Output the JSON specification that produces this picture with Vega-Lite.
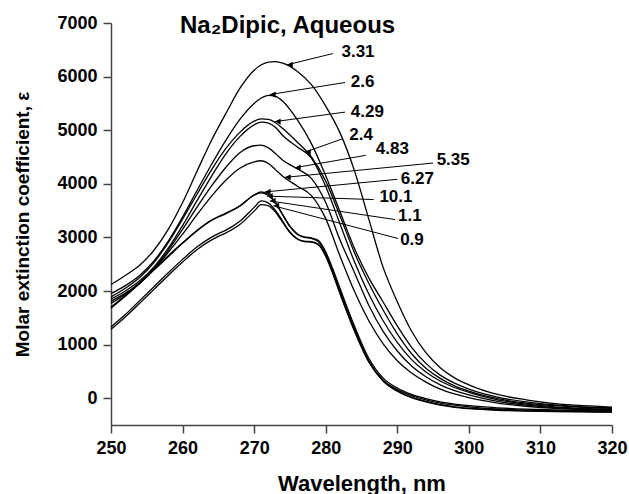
{
  "$schema": "https://vega.github.io/schema/vega-lite/v6.json",
  "width": 501,
  "height": 402,
  "autosize": "none",
  "padding": {"left": 111, "top": 23, "right": 17, "bottom": 69},
  "config": {"font": "Liberation Sans", "view": {"stroke": null}},
  "title": {"text": "Na₂Dipic, Aqueous", "fontSize": 24, "fontWeight": "bold", "anchor": "start", "frame": "group", "dx": 69, "offset": -43, "baseline": "alphabetic", "color": "#000"},
  "datasets": {
    "curves": [
      {"s":"3.31","w":250,"e":2120},{"s":"3.31","w":252,"e":2290},{"s":"3.31","w":254,"e":2480},{"s":"3.31","w":256,"e":2760},{"s":"3.31","w":258,"e":3150},{"s":"3.31","w":260,"e":3650},{"s":"3.31","w":262,"e":4230},{"s":"3.31","w":264,"e":4800},{"s":"3.31","w":266,"e":5300},{"s":"3.31","w":268,"e":5780},{"s":"3.31","w":270,"e":6120},{"s":"3.31","w":271,"e":6220},{"s":"3.31","w":272,"e":6270},{"s":"3.31","w":273,"e":6280},{"s":"3.31","w":274,"e":6250},{"s":"3.31","w":276,"e":6100},{"s":"3.31","w":278,"e":5850},{"s":"3.31","w":280,"e":5450},{"s":"3.31","w":282,"e":4950},{"s":"3.31","w":284,"e":4250},{"s":"3.31","w":286,"e":3350},{"s":"3.31","w":288,"e":2450},{"s":"3.31","w":290,"e":1800},{"s":"3.31","w":292,"e":1250},{"s":"3.31","w":294,"e":850},{"s":"3.31","w":296,"e":570},{"s":"3.31","w":298,"e":380},{"s":"3.31","w":300,"e":250},{"s":"3.31","w":304,"e":70},{"s":"3.31","w":308,"e":-30},{"s":"3.31","w":312,"e":-100},{"s":"3.31","w":316,"e":-140},{"s":"3.31","w":320,"e":-165},
      {"s":"2.6","w":250,"e":1950},{"s":"2.6","w":252,"e":2100},{"s":"2.6","w":254,"e":2290},{"s":"2.6","w":256,"e":2560},{"s":"2.6","w":258,"e":2930},{"s":"2.6","w":260,"e":3380},{"s":"2.6","w":262,"e":3870},{"s":"2.6","w":264,"e":4350},{"s":"2.6","w":266,"e":4800},{"s":"2.6","w":268,"e":5200},{"s":"2.6","w":270,"e":5500},{"s":"2.6","w":271,"e":5600},{"s":"2.6","w":272,"e":5650},{"s":"2.6","w":273,"e":5630},{"s":"2.6","w":274,"e":5540},{"s":"2.6","w":276,"e":5200},{"s":"2.6","w":278,"e":4750},{"s":"2.6","w":280,"e":4150},{"s":"2.6","w":282,"e":3480},{"s":"2.6","w":284,"e":2800},{"s":"2.6","w":286,"e":2250},{"s":"2.6","w":288,"e":1800},{"s":"2.6","w":290,"e":1350},{"s":"2.6","w":292,"e":950},{"s":"2.6","w":294,"e":650},{"s":"2.6","w":296,"e":430},{"s":"2.6","w":298,"e":280},{"s":"2.6","w":300,"e":170},{"s":"2.6","w":304,"e":20},{"s":"2.6","w":308,"e":-70},{"s":"2.6","w":312,"e":-125},{"s":"2.6","w":316,"e":-160},{"s":"2.6","w":320,"e":-180},
      {"s":"4.29","w":250,"e":1890},{"s":"4.29","w":252,"e":2050},{"s":"4.29","w":254,"e":2250},{"s":"4.29","w":256,"e":2530},{"s":"4.29","w":258,"e":2900},{"s":"4.29","w":260,"e":3340},{"s":"4.29","w":262,"e":3800},{"s":"4.29","w":264,"e":4250},{"s":"4.29","w":266,"e":4650},{"s":"4.29","w":268,"e":4960},{"s":"4.29","w":270,"e":5170},{"s":"4.29","w":271,"e":5210},{"s":"4.29","w":272,"e":5200},{"s":"4.29","w":273,"e":5140},{"s":"4.29","w":274,"e":5030},{"s":"4.29","w":276,"e":4780},{"s":"4.29","w":278,"e":4500},{"s":"4.29","w":280,"e":4050},{"s":"4.29","w":282,"e":3400},{"s":"4.29","w":284,"e":2720},{"s":"4.29","w":286,"e":2150},{"s":"4.29","w":288,"e":1650},{"s":"4.29","w":290,"e":1200},{"s":"4.29","w":292,"e":830},{"s":"4.29","w":294,"e":560},{"s":"4.29","w":296,"e":370},{"s":"4.29","w":298,"e":230},{"s":"4.29","w":300,"e":130},{"s":"4.29","w":304,"e":-10},{"s":"4.29","w":308,"e":-90},{"s":"4.29","w":312,"e":-140},{"s":"4.29","w":316,"e":-170},{"s":"4.29","w":320,"e":-190},
      {"s":"2.4","w":250,"e":1850},{"s":"2.4","w":252,"e":2000},{"s":"2.4","w":254,"e":2190},{"s":"2.4","w":256,"e":2450},{"s":"2.4","w":258,"e":2800},{"s":"2.4","w":260,"e":3220},{"s":"2.4","w":262,"e":3680},{"s":"2.4","w":264,"e":4130},{"s":"2.4","w":266,"e":4550},{"s":"2.4","w":268,"e":4880},{"s":"2.4","w":270,"e":5100},{"s":"2.4","w":271,"e":5150},{"s":"2.4","w":272,"e":5130},{"s":"2.4","w":273,"e":5050},{"s":"2.4","w":274,"e":4900},{"s":"2.4","w":276,"e":4690},{"s":"2.4","w":278,"e":4480},{"s":"2.4","w":280,"e":3950},{"s":"2.4","w":282,"e":3250},{"s":"2.4","w":284,"e":2550},{"s":"2.4","w":286,"e":1950},{"s":"2.4","w":288,"e":1450},{"s":"2.4","w":290,"e":1040},{"s":"2.4","w":292,"e":720},{"s":"2.4","w":294,"e":490},{"s":"2.4","w":296,"e":320},{"s":"2.4","w":298,"e":200},{"s":"2.4","w":300,"e":110},{"s":"2.4","w":304,"e":-30},{"s":"2.4","w":308,"e":-110},{"s":"2.4","w":312,"e":-160},{"s":"2.4","w":316,"e":-190},{"s":"2.4","w":320,"e":-205},
      {"s":"4.83","w":250,"e":1810},{"s":"4.83","w":252,"e":1960},{"s":"4.83","w":254,"e":2150},{"s":"4.83","w":256,"e":2420},{"s":"4.83","w":258,"e":2760},{"s":"4.83","w":260,"e":3150},{"s":"4.83","w":262,"e":3560},{"s":"4.83","w":264,"e":3950},{"s":"4.83","w":266,"e":4300},{"s":"4.83","w":268,"e":4580},{"s":"4.83","w":270,"e":4710},{"s":"4.83","w":271,"e":4720},{"s":"4.83","w":272,"e":4670},{"s":"4.83","w":273,"e":4560},{"s":"4.83","w":274,"e":4440},{"s":"4.83","w":276,"e":4280},{"s":"4.83","w":278,"e":4100},{"s":"4.83","w":280,"e":3650},{"s":"4.83","w":282,"e":2950},{"s":"4.83","w":284,"e":2350},{"s":"4.83","w":286,"e":1740},{"s":"4.83","w":288,"e":1250},{"s":"4.83","w":290,"e":880},{"s":"4.83","w":292,"e":600},{"s":"4.83","w":294,"e":400},{"s":"4.83","w":296,"e":250},{"s":"4.83","w":298,"e":140},{"s":"4.83","w":300,"e":60},{"s":"4.83","w":304,"e":-60},{"s":"4.83","w":308,"e":-130},{"s":"4.83","w":312,"e":-175},{"s":"4.83","w":316,"e":-200},{"s":"4.83","w":320,"e":-215},
      {"s":"5.35","w":250,"e":1770},{"s":"5.35","w":252,"e":1940},{"s":"5.35","w":254,"e":2140},{"s":"5.35","w":256,"e":2400},{"s":"5.35","w":258,"e":2720},{"s":"5.35","w":260,"e":3060},{"s":"5.35","w":262,"e":3420},{"s":"5.35","w":264,"e":3760},{"s":"5.35","w":266,"e":4060},{"s":"5.35","w":268,"e":4290},{"s":"5.35","w":270,"e":4410},{"s":"5.35","w":271,"e":4430},{"s":"5.35","w":272,"e":4380},{"s":"5.35","w":273,"e":4260},{"s":"5.35","w":274,"e":4140},{"s":"5.35","w":276,"e":3960},{"s":"5.35","w":278,"e":3780},{"s":"5.35","w":280,"e":3350},{"s":"5.35","w":282,"e":2650},{"s":"5.35","w":284,"e":2000},{"s":"5.35","w":286,"e":1450},{"s":"5.35","w":288,"e":1020},{"s":"5.35","w":290,"e":700},{"s":"5.35","w":292,"e":470},{"s":"5.35","w":294,"e":300},{"s":"5.35","w":296,"e":170},{"s":"5.35","w":298,"e":80},{"s":"5.35","w":300,"e":10},{"s":"5.35","w":304,"e":-90},{"s":"5.35","w":308,"e":-150},{"s":"5.35","w":312,"e":-190},{"s":"5.35","w":316,"e":-210},{"s":"5.35","w":320,"e":-225},
      {"s":"6.27","w":250,"e":1700},{"s":"6.27","w":252,"e":1920},{"s":"6.27","w":254,"e":2160},{"s":"6.27","w":256,"e":2410},{"s":"6.27","w":258,"e":2660},{"s":"6.27","w":260,"e":2900},{"s":"6.27","w":262,"e":3130},{"s":"6.27","w":264,"e":3320},{"s":"6.27","w":265,"e":3390},{"s":"6.27","w":266,"e":3450},{"s":"6.27","w":268,"e":3590},{"s":"6.27","w":270,"e":3790},{"s":"6.27","w":271,"e":3830},{"s":"6.27","w":272,"e":3780},{"s":"6.27","w":273,"e":3640},{"s":"6.27","w":274,"e":3420},{"s":"6.27","w":275,"e":3210},{"s":"6.27","w":276,"e":3070},{"s":"6.27","w":277,"e":3010},{"s":"6.27","w":278,"e":2990},{"s":"6.27","w":279,"e":2940},{"s":"6.27","w":280,"e":2730},{"s":"6.27","w":281,"e":2410},{"s":"6.27","w":282,"e":2050},{"s":"6.27","w":284,"e":1350},{"s":"6.27","w":286,"e":750},{"s":"6.27","w":288,"e":380},{"s":"6.27","w":290,"e":190},{"s":"6.27","w":292,"e":70},{"s":"6.27","w":294,"e":-10},{"s":"6.27","w":296,"e":-70},{"s":"6.27","w":298,"e":-110},{"s":"6.27","w":300,"e":-140},{"s":"6.27","w":304,"e":-180},{"s":"6.27","w":308,"e":-205},{"s":"6.27","w":312,"e":-220},{"s":"6.27","w":316,"e":-230},{"s":"6.27","w":320,"e":-235},
      {"s":"10.1","w":250,"e":1680},{"s":"10.1","w":252,"e":1900},{"s":"10.1","w":254,"e":2140},{"s":"10.1","w":256,"e":2390},{"s":"10.1","w":258,"e":2640},{"s":"10.1","w":260,"e":2890},{"s":"10.1","w":262,"e":3120},{"s":"10.1","w":264,"e":3310},{"s":"10.1","w":265,"e":3380},{"s":"10.1","w":266,"e":3440},{"s":"10.1","w":268,"e":3580},{"s":"10.1","w":270,"e":3790},{"s":"10.1","w":271,"e":3850},{"s":"10.1","w":272,"e":3800},{"s":"10.1","w":273,"e":3650},{"s":"10.1","w":274,"e":3420},{"s":"10.1","w":275,"e":3200},{"s":"10.1","w":276,"e":3060},{"s":"10.1","w":277,"e":3000},{"s":"10.1","w":278,"e":2980},{"s":"10.1","w":279,"e":2920},{"s":"10.1","w":280,"e":2700},{"s":"10.1","w":281,"e":2370},{"s":"10.1","w":282,"e":2000},{"s":"10.1","w":284,"e":1300},{"s":"10.1","w":286,"e":700},{"s":"10.1","w":288,"e":340},{"s":"10.1","w":290,"e":160},{"s":"10.1","w":292,"e":50},{"s":"10.1","w":294,"e":-30},{"s":"10.1","w":296,"e":-90},{"s":"10.1","w":298,"e":-130},{"s":"10.1","w":300,"e":-160},{"s":"10.1","w":304,"e":-200},{"s":"10.1","w":308,"e":-220},{"s":"10.1","w":312,"e":-235},{"s":"10.1","w":316,"e":-240},{"s":"10.1","w":320,"e":-245},
      {"s":"1.1","w":250,"e":1330},{"s":"1.1","w":252,"e":1560},{"s":"1.1","w":254,"e":1820},{"s":"1.1","w":256,"e":2080},{"s":"1.1","w":258,"e":2340},{"s":"1.1","w":260,"e":2590},{"s":"1.1","w":262,"e":2820},{"s":"1.1","w":264,"e":3000},{"s":"1.1","w":265,"e":3070},{"s":"1.1","w":266,"e":3130},{"s":"1.1","w":268,"e":3300},{"s":"1.1","w":270,"e":3560},{"s":"1.1","w":271,"e":3680},{"s":"1.1","w":272,"e":3640},{"s":"1.1","w":273,"e":3500},{"s":"1.1","w":274,"e":3300},{"s":"1.1","w":275,"e":3100},{"s":"1.1","w":276,"e":2980},{"s":"1.1","w":277,"e":2930},{"s":"1.1","w":278,"e":2920},{"s":"1.1","w":279,"e":2870},{"s":"1.1","w":280,"e":2660},{"s":"1.1","w":281,"e":2330},{"s":"1.1","w":282,"e":1960},{"s":"1.1","w":284,"e":1270},{"s":"1.1","w":286,"e":690},{"s":"1.1","w":288,"e":330},{"s":"1.1","w":290,"e":140},{"s":"1.1","w":292,"e":20},{"s":"1.1","w":294,"e":-60},{"s":"1.1","w":296,"e":-120},{"s":"1.1","w":298,"e":-160},{"s":"1.1","w":300,"e":-185},{"s":"1.1","w":304,"e":-215},{"s":"1.1","w":308,"e":-235},{"s":"1.1","w":312,"e":-245},{"s":"1.1","w":316,"e":-250},{"s":"1.1","w":320,"e":-255},
      {"s":"0.9","w":250,"e":1285},{"s":"0.9","w":252,"e":1515},{"s":"0.9","w":254,"e":1770},{"s":"0.9","w":256,"e":2030},{"s":"0.9","w":258,"e":2290},{"s":"0.9","w":260,"e":2540},{"s":"0.9","w":262,"e":2770},{"s":"0.9","w":264,"e":2950},{"s":"0.9","w":265,"e":3020},{"s":"0.9","w":266,"e":3080},{"s":"0.9","w":268,"e":3240},{"s":"0.9","w":270,"e":3490},{"s":"0.9","w":271,"e":3610},{"s":"0.9","w":272,"e":3590},{"s":"0.9","w":273,"e":3470},{"s":"0.9","w":274,"e":3280},{"s":"0.9","w":275,"e":3090},{"s":"0.9","w":276,"e":2970},{"s":"0.9","w":277,"e":2920},{"s":"0.9","w":278,"e":2910},{"s":"0.9","w":279,"e":2860},{"s":"0.9","w":280,"e":2650},{"s":"0.9","w":281,"e":2320},{"s":"0.9","w":282,"e":1950},{"s":"0.9","w":284,"e":1260},{"s":"0.9","w":286,"e":680},{"s":"0.9","w":288,"e":320},{"s":"0.9","w":290,"e":130},{"s":"0.9","w":292,"e":10},{"s":"0.9","w":294,"e":-70},{"s":"0.9","w":296,"e":-130},{"s":"0.9","w":298,"e":-170},{"s":"0.9","w":300,"e":-195},{"s":"0.9","w":304,"e":-225},{"s":"0.9","w":308,"e":-240},{"s":"0.9","w":312,"e":-250},{"s":"0.9","w":316,"e":-255},{"s":"0.9","w":320,"e":-260}
    ],
    "labels": [
      {"label":"3.31","lx":282.2,"ly":6454,"x0":281.0,"y0":6430,"tx":274.6,"ty":6220},
      {"label":"2.6","lx":283.5,"ly":5896,"x0":282.7,"y0":5890,"tx":272.2,"ty":5665},
      {"label":"4.29","lx":283.5,"ly":5337,"x0":282.7,"y0":5337,"tx":272.9,"ty":5160},
      {"label":"2.4","lx":283.3,"ly":4903,"x0":282.4,"y0":4842,"tx":277.1,"ty":4590},
      {"label":"4.83","lx":287.0,"ly":4655,"x0":285.6,"y0":4531,"tx":275.7,"ty":4300},
      {"label":"5.35","lx":295.5,"ly":4451,"x0":295.0,"y0":4387,"tx":274.3,"ty":4120},
      {"label":"6.27","lx":290.5,"ly":4097,"x0":290.0,"y0":4084,"tx":271.5,"ty":3848},
      {"label":"10.1","lx":287.5,"ly":3754,"x0":286.7,"y0":3706,"tx":271.8,"ty":3770},
      {"label":"1.1","lx":290.1,"ly":3395,"x0":289.7,"y0":3333,"tx":272.2,"ty":3680},
      {"label":"0.9","lx":290.4,"ly":2948,"x0":290.1,"y0":2980,"tx":272.7,"ty":3590}
    ]
  },
  "layer": [
    {
      "data": {"name": "curves"},
      "mark": {"type": "line", "interpolate": "monotone", "color": "#000", "strokeWidth": 1.3},
      "encoding": {
        "x": {"field": "w", "type": "quantitative", "scale": {"domain": [250, 320], "nice": false, "zero": false},
          "axis": {"title": "Wavelength, nm", "values": [250,260,270,280,290,300,310,320], "format": "d", "grid": false, "tickSize": 8, "tickWidth": 1.5, "tickColor": "#444", "domainColor": "#444", "domainWidth": 1.5, "labelFontSize": 18, "labelFontWeight": "bold", "labelColor": "#000", "labelPadding": 6, "labelFlush": false, "labelOverlap": false, "titleFontSize": 22, "titleFontWeight": "bold", "titleColor": "#000", "titleY": 58, "titleBaseline": "middle"}},
        "y": {"field": "e", "type": "quantitative", "scale": {"domain": [-500, 7000], "nice": false, "zero": false},
          "axis": {"title": "Molar extinction coefficient, ε", "values": [0,1000,2000,3000,4000,5000,6000,7000], "format": "d", "grid": false, "tickSize": 8, "tickWidth": 1.5, "tickColor": "#444", "domainColor": "#444", "domainWidth": 1.5, "labelFontSize": 18, "labelFontWeight": "bold", "labelColor": "#000", "labelPadding": 6, "labelFlush": false, "labelOverlap": false, "titleFontSize": 19, "titleFontWeight": "bold", "titleColor": "#000", "titleX": -89, "titleBaseline": "middle"}},
        "detail": {"field": "s", "type": "nominal"}
      }
    },
    {
      "data": {"name": "labels"},
      "mark": {"type": "rule", "color": "#000", "strokeWidth": 1},
      "encoding": {
        "x": {"field": "x0", "type": "quantitative"},
        "y": {"field": "y0", "type": "quantitative"},
        "x2": {"field": "tx"},
        "y2": {"field": "ty"}
      }
    },
    {
      "data": {"name": "labels"},
      "mark": {"type": "point", "shape": "triangle-left", "filled": true, "color": "#000", "size": 40, "opacity": 1, "xOffset": 3},
      "encoding": {
        "x": {"field": "tx", "type": "quantitative"},
        "y": {"field": "ty", "type": "quantitative"}
      }
    },
    {
      "data": {"name": "labels"},
      "mark": {"type": "text", "align": "left", "baseline": "middle", "fontSize": 17, "fontWeight": "bold", "color": "#000"},
      "encoding": {
        "x": {"field": "lx", "type": "quantitative"},
        "y": {"field": "ly", "type": "quantitative"},
        "text": {"field": "label", "type": "nominal"}
      }
    }
  ]
}
